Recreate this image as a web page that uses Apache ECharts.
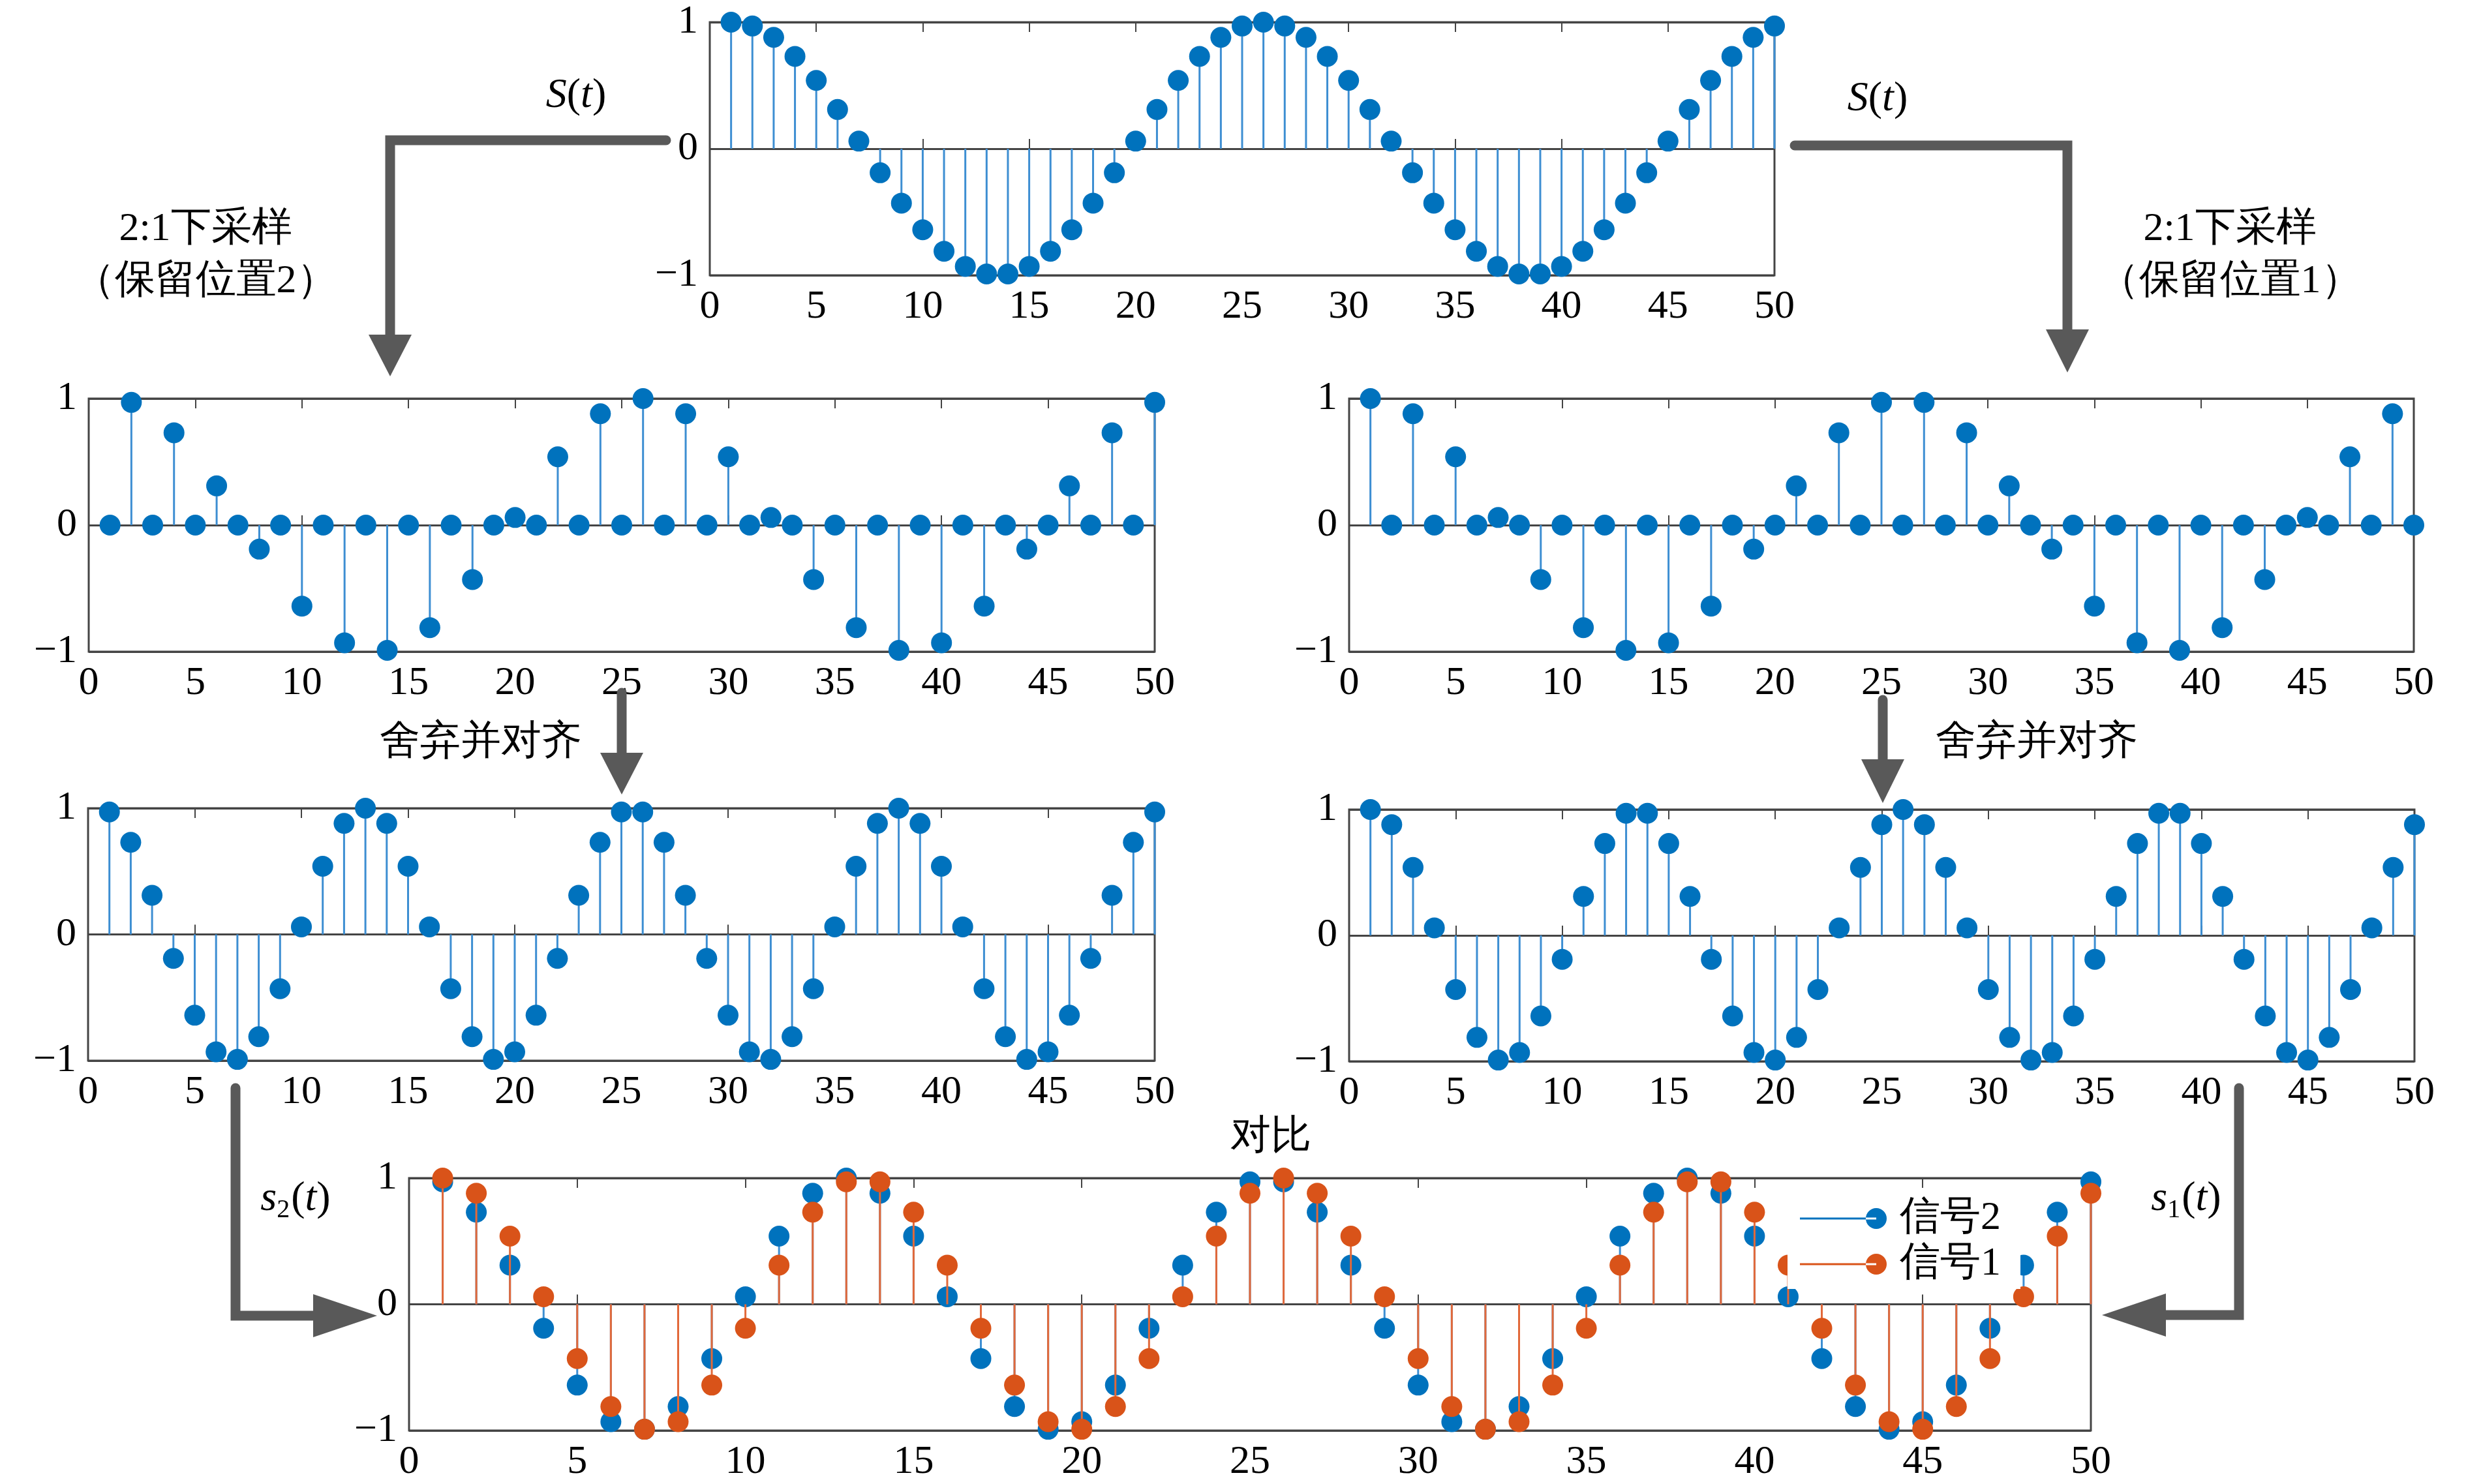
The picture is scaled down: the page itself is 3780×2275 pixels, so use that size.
<!DOCTYPE html>
<html>
<head>
<meta charset="utf-8">
<script src="https://cdn.jsdelivr.net/npm/echarts@6.0.0/dist/echarts.min.js"></script>
<style>
  html, body { margin: 0; padding: 0; background: #fff; }
  #main { width: 3780px; height: 2275px; }
</style>
</head>
<body>
<div id="main"></div>
<script>
// sample positions t = 1..50
const T = [1, 2, 3, 4, 5, 6, 7, 8, 9, 10, 11, 12, 13, 14, 15, 16, 17, 18, 19, 20,
    21, 22, 23, 24, 25, 26, 27, 28, 29, 30, 31, 32, 33, 34, 35, 36, 37, 38, 39, 40,
    41, 42, 43, 44, 45, 46, 47, 48, 49, 50];

// original signal S(t)
const S_T = [1.00, 0.97, 0.88, 0.73, 0.54, 0.31, 0.06, -0.19, -0.43, -0.64,
    -0.81, -0.93, -0.99, -0.99, -0.93, -0.81, -0.64, -0.43, -0.19, 0.06,
    0.31, 0.54, 0.73, 0.88, 0.97, 1.00, 0.97, 0.88, 0.73, 0.54,
    0.31, 0.06, -0.19, -0.43, -0.64, -0.81, -0.93, -0.99, -0.99, -0.93,
    -0.81, -0.64, -0.43, -0.19, 0.06, 0.31, 0.54, 0.73, 0.88, 0.97];

// 2:1 downsampled, keep position 2
const DOWN_2 = [0, 0.97, 0, 0.73, 0, 0.31, 0, -0.19, 0, -0.64,
    0, -0.93, 0, -0.99, 0, -0.81, 0, -0.43, 0, 0.06,
    0, 0.54, 0, 0.88, 0, 1.00, 0, 0.88, 0, 0.54,
    0, 0.06, 0, -0.43, 0, -0.81, 0, -0.99, 0, -0.93,
    0, -0.64, 0, -0.19, 0, 0.31, 0, 0.73, 0, 0.97];

// 2:1 downsampled, keep position 1
const DOWN_1 = [1.00, 0, 0.88, 0, 0.54, 0, 0.06, 0, -0.43, 0,
    -0.81, 0, -0.99, 0, -0.93, 0, -0.64, 0, -0.19, 0,
    0.31, 0, 0.73, 0, 0.97, 0, 0.97, 0, 0.73, 0,
    0.31, 0, -0.19, 0, -0.64, 0, -0.93, 0, -0.99, 0,
    -0.81, 0, -0.43, 0, 0.06, 0, 0.54, 0, 0.88, 0];

// zeros dropped and aligned
const S2_T = [0.97, 0.73, 0.31, -0.19, -0.64, -0.93, -0.99, -0.81, -0.43, 0.06,
    0.54, 0.88, 1.00, 0.88, 0.54, 0.06, -0.43, -0.81, -0.99, -0.93,
    -0.64, -0.19, 0.31, 0.73, 0.97, 0.97, 0.73, 0.31, -0.19, -0.64,
    -0.93, -0.99, -0.81, -0.43, 0.06, 0.54, 0.88, 1.00, 0.88, 0.54,
    0.06, -0.43, -0.81, -0.99, -0.93, -0.64, -0.19, 0.31, 0.73, 0.97];

const S1_T = [1.00, 0.88, 0.54, 0.06, -0.43, -0.81, -0.99, -0.93, -0.64, -0.19,
    0.31, 0.73, 0.97, 0.97, 0.73, 0.31, -0.19, -0.64, -0.93, -0.99,
    -0.81, -0.43, 0.06, 0.54, 0.88, 1.00, 0.88, 0.54, 0.06, -0.43,
    -0.81, -0.99, -0.93, -0.64, -0.19, 0.31, 0.73, 0.97, 0.97, 0.73,
    0.31, -0.19, -0.64, -0.93, -0.99, -0.81, -0.43, 0.06, 0.54, 0.88];

const X_TICKS = { min: 0, max: 50, interval: 5 };
const Y_TICKS = { min: -1, max: 1, interval: 1 };

const BLUE = '#0072BD';
const ORANGE = '#D95319';
const BLUE_STEM = '#3d8ed2';
const ORANGE_STEM = '#e2693a';
const AXIS = '#444444';
const ARROW = '#595959';
const SERIF = 'Liberation Serif';

const GRIDS = [
    { left: 1088, top: 34, width: 1632, height: 388 },
    { left: 136, top: 611, width: 1634, height: 388 },
    { left: 2068, top: 611, width: 1632, height: 388 },
    { left: 135, top: 1239, width: 1635, height: 387 },
    { left: 2068, top: 1241, width: 1633, height: 386 },
    { left: 627, top: 1806, width: 2578, height: 387 }
];

const stem = (stemColor, dotColor) => (params, api) => {
    const p = api.coord([api.value(0), api.value(1)]);
    const b = api.coord([api.value(0), 0]);
    return {
        type: 'group',
        children: [
            { type: 'line', shape: { x1: p[0], y1: b[1], x2: p[0], y2: p[1] },
              style: { stroke: stemColor, lineWidth: 3 } },
            { type: 'circle', shape: { cx: p[0], cy: p[1], r: 16 },
              style: { fill: dotColor } }
        ]
    };
};

const pairs = (vals) => T.map((t, i) => [t, vals[i]]);

const xAxes = [];
const yAxes = [];
GRIDS.forEach((g, i) => {
    const tick = { inside: true, length: 15, lineStyle: { color: AXIS, width: 2 } };
    xAxes.push({
        gridIndex: i, type: 'value', ...X_TICKS, position: 'bottom',
        axisLine: { show: false }, axisTick: tick, splitLine: { show: false },
        axisLabel: { margin: 18, fontSize: 62, fontFamily: SERIF, color: '#000' }
    });
    xAxes.push({
        gridIndex: i, type: 'value', ...X_TICKS, position: 'top',
        axisLine: { show: false }, axisTick: tick, splitLine: { show: false },
        axisLabel: { show: false }
    });
    yAxes.push({
        gridIndex: i, type: 'value', ...Y_TICKS,
        axisLine: { show: false }, axisTick: { show: false },
        splitLine: { show: true, lineStyle: { color: AXIS, width: 3 } },
        axisLabel: {
            margin: 18, fontSize: 62, fontFamily: SERIF, color: '#000',
            formatter: v => (v < 0 ? '\u2212' + (-v) : String(v))
        }
    });
});

const plotSeries = (name, idx, vals, stemColor, dotColor) => ({
    name, type: 'custom', xAxisIndex: idx * 2, yAxisIndex: idx,
    itemStyle: { color: dotColor }, clip: false,
    renderItem: stem(stemColor, dotColor),
    data: pairs(vals)
});

const LEGEND_ICON = 'path://M0,14.5L117,14.5L117,17.5L0,17.5Z M101,16A16,16,0,1,0,133,16A16,16,0,1,0,101,16Z';

// arrows
const arrowLine = (pts) => ({
    type: 'polyline', shape: { points: pts },
    style: { stroke: ARROW, lineWidth: 15, fill: null, lineJoin: 'miter', lineCap: 'round' },
    z: 10
});
const arrowHead = (pts) => ({ type: 'polygon', shape: { points: pts }, style: { fill: ARROW }, z: 10 });

const label = (x, y, text) => ({
    type: 'text', x, y, z: 10,
    style: { text, fontSize: 62, fontFamily: SERIF, fill: '#000', align: 'center', verticalAlign: 'middle' }
});

const mathText = (x, y, text) => ({
    type: 'text', x, y, z: 10,
    style: {
        text, fill: '#000', align: 'center', verticalAlign: 'middle',
        fontSize: 64, fontFamily: SERIF,
        rich: {
            i: { fontSize: 64, fontFamily: SERIF, fontStyle: 'italic', lineHeight: 70 },
            n: { fontSize: 64, fontFamily: SERIF, lineHeight: 70 },
            sub: { fontSize: 40, fontFamily: SERIF, lineHeight: 40, padding: [34, 2, 0, 0] }
        }
    }
});

const graphics = [
    arrowLine([[1021, 215], [598, 215], [598, 515]]),
    arrowHead([[565, 513], [631, 513], [598, 577]]),
    arrowLine([[2751, 223], [3169, 223], [3169, 507]]),
    arrowHead([[3136, 505], [3202, 505], [3169, 571]]),
    arrowLine([[953, 1062], [953, 1156]]),
    arrowHead([[920, 1154], [986, 1154], [953, 1218]]),
    arrowLine([[2886, 1073], [2886, 1166]]),
    arrowHead([[2853, 1164], [2919, 1164], [2886, 1231]]),
    arrowLine([[361, 1668], [361, 2017], [482, 2017]]),
    arrowHead([[480, 1984], [480, 2050], [578, 2017]]),
    arrowLine([[3432, 1668], [3432, 2016], [3318, 2016]]),
    arrowHead([[3320, 1983], [3320, 2049], [3222, 2016]]),

    mathText(883, 147, '{i|S}{n|(}{i|t}{n|)}'),
    mathText(2878, 152, '{i|S}{n|(}{i|t}{n|)}'),
    label(315, 352, '2:1下采样'),
    label(315, 432, '（保留位置2）'),
    label(3418, 352, '2:1下采样'),
    label(3418, 432, '（保留位置1）'),
    label(737, 1139, '舍弃并对齐'),
    label(3122, 1139, '舍弃并对齐'),
    label(1948, 1744, '对比'),
    mathText(453, 1838, '{i|s}{sub|2}{n|(}{i|t}{n|)}'),
    mathText(3351, 1838, '{i|s}{sub|1}{n|(}{i|t}{n|)}')
];

const chart = echarts.init(document.getElementById('main'));
chart.setOption({
    backgroundColor: '#ffffff',
    animation: false,
    textStyle: { fontFamily: SERIF },
    grid: GRIDS.map(g => ({ ...g, show: true, borderColor: AXIS, borderWidth: 3, containLabel: false })),
    xAxis: xAxes,
    yAxis: yAxes,
    legend: {
        orient: 'vertical', left: 2740, top: 1830,
        padding: [7, 30, 7, 19], itemGap: 8,
        itemWidth: 133, itemHeight: 32,
        backgroundColor: '#ffffff', borderWidth: 0,
        textStyle: { fontSize: 62, lineHeight: 62, fontFamily: SERIF, color: '#000', padding: [0, 0, 0, 15] },
        data: [
            { name: '信号2', icon: LEGEND_ICON },
            { name: '信号1', icon: LEGEND_ICON }
        ]
    },
    graphic: graphics,
    series: [
        plotSeries('S', 0, S_T, BLUE_STEM, BLUE),
        plotSeries('保留位置2', 1, DOWN_2, BLUE_STEM, BLUE),
        plotSeries('保留位置1', 2, DOWN_1, BLUE_STEM, BLUE),
        plotSeries('s2', 3, S2_T, BLUE_STEM, BLUE),
        plotSeries('s1', 4, S1_T, BLUE_STEM, BLUE),
        plotSeries('信号2', 5, S2_T, BLUE_STEM, BLUE),
        plotSeries('信号1', 5, S1_T, ORANGE_STEM, ORANGE)
    ]
});
</script>
</body>
</html>
